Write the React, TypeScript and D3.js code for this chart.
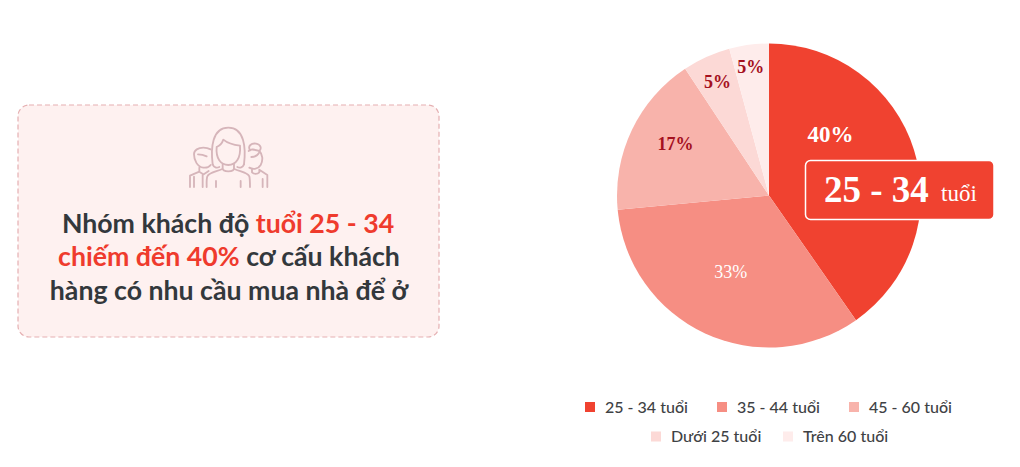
import React from 'react';
import * as d3 from 'd3';

const categories = ['25 - 34 tuổi', '35 - 44 tuổi', '45 - 60 tuổi', 'Dưới 25 tuổi', 'Trên 60 tuổi'];
const shares = [40.3, 33.2, 17.2, 5.1, 4.2];
const shareLabels = ['40%', '33%', '17%', '5%', '5%'];
const sliceColors = ['#f04230', '#f68e83', '#f8b3ab', '#fcd9d6', '#feeceb'];
const labelColors = ['#ffffff', '#ffffff', '#a5101e', '#a5101e', '#a5101e'];
const labelRadii = [87, 85, 107, 125, 130];
const labelAngleShift = [-27.5, 2, 3.5, 0, -0.5];

const legendRows = [[0, 1, 2], [3, 4]];
const legendStarts = [[585, 717, 849], [651, 783]];

const UI_FONT = 'Lato, sans-serif';
const NUM_FONT = '"Liberation Serif", serif';

const cx = 769;
const cy = 195.5;
const radius = 152;

export default function App() {
  const pie = d3.pie<number>().sort(null).value((d) => d);
  const arcs = pie(shares);
  const arc = d3.arc<d3.PieArcDatum<number>>().innerRadius(0).outerRadius(radius);

  return (
    <svg width={1020} height={467} style={{ position: 'absolute', left: 0, top: 0 }}>
      <rect x={18} y={105} width={421} height={232} rx={11} fill="#fef1f0" stroke="#e5b0b2" strokeWidth={1.2} strokeDasharray="5 3" />

      {/* people icon */}
      <g transform="translate(170,115) scale(0.3333)" fill="none" stroke="#d6b5ba" strokeWidth={5.5} strokeLinecap="round" strokeLinejoin="round">
        <path d="M128 148 C122 100,126 38,175 38 C224 38,228 100,222 148" />
        <path d="M128 148 C132 158,140 160,148 156 M222 148 C218 158,210 160,202 156" />
        <path d="M140 96 C137 130,152 150,175 150 C198 150,213 130,210 92 C190 90,172 84,160 74 C156 86,150 92,140 96" />
        <path d="M158 148 V160 C158 172,192 172,192 160 V148" />
        <path d="M157 162 C140 170,118 172,112 184 C109 192,110 205,110 216 M193 162 C210 170,232 172,238 184 C240 192,240 205,240 216" />
        <path d="M138 198 V216 M212 198 V216" />
        <path d="M122 150 C115 160,108 158,100 158 C82 156,72 135,72 118 C72 105,85 98,100 98 C108 98,116 100,122 103" />
        <path d="M84 118 C92 118,102 120,110 124" />
        <path d="M88 158 V170 L60 182 V216 M72 216 V185 M100 178 L90 172 M98 216 V180 L116 168" />
        <path d="M236 108 C242 100,255 104,268 108 C278 118,280 135,272 150 C265 162,250 165,238 158" />
        <path d="M240 106 C232 92,245 84,258 86 C272 88,276 100,268 108" />
        <path d="M244 126 C256 126,264 120,268 112" />
        <path d="M246 164 V172 C252 178,262 178,268 172 V164 L292 180 V216 M278 216 V192" />
      </g>

      <text textAnchor="middle" fontFamily={UI_FONT} fontWeight={700} fontSize={26.7} fill="#33383c">
        <tspan x={228} y={233}>Nhóm khách độ <tspan fill="#ef3b2d">tuổi 25 - 34</tspan></tspan>
        <tspan x={229} y={266}><tspan fill="#ef3b2d">chiếm đến 40%</tspan> cơ cấu khách</tspan>
        <tspan x={229} y={300}>hàng có nhu cầu mua nhà để ở</tspan>
      </text>

      <g transform={`translate(${cx},${cy})`}>
        {arcs.map((d, i) => (
          <path key={categories[i]} d={arc(d) ?? ''} fill={sliceColors[i]} />
        ))}
        {arcs.map((d, i) => {
          const mid = (d.startAngle + d.endAngle) / 2 + (labelAngleShift[i] * Math.PI) / 180;
          const [x, y] = d3.pointRadial(mid, labelRadii[i]);
          return (
            <text key={shareLabels[i] + i} x={x} y={y} dy="0.35em" textAnchor="middle" fontFamily={NUM_FONT} fontWeight={i === 0 || i > 1 ? 700 : 400} fontSize={i === 0 ? 23 : 18} fill={labelColors[i]}>
              {shareLabels[i]}
            </text>
          );
        })}
      </g>

      {/* callout */}
      <rect x={805.5} y={160.5} width={188.5} height={59} rx={5} fill="#f04230" stroke="#ffffff" strokeWidth={1.5} />
      <text x={824} y={202} fontFamily={NUM_FONT} fontWeight={700} fontSize={37} fill="#fff">25 - 34</text>
      <text x={941} y={201} fontFamily={NUM_FONT} fontSize={23} fill="#fff">tuổi</text>

      {legendRows.map((row, r) =>
        row.map((idx, j) => (
          <g key={idx} transform={`translate(${legendStarts[r][j]},${r === 0 ? 407 : 436.5})`}>
            <rect x={0} y={-5} width={10} height={10} fill={sliceColors[idx]} />
            <text x={20} y={0} dy="0.35em" fontFamily={UI_FONT} fontWeight={500} fontSize={16} fill="#3f4245">{categories[idx]}</text>
          </g>
        ))
      )}
    </svg>
  );
}
